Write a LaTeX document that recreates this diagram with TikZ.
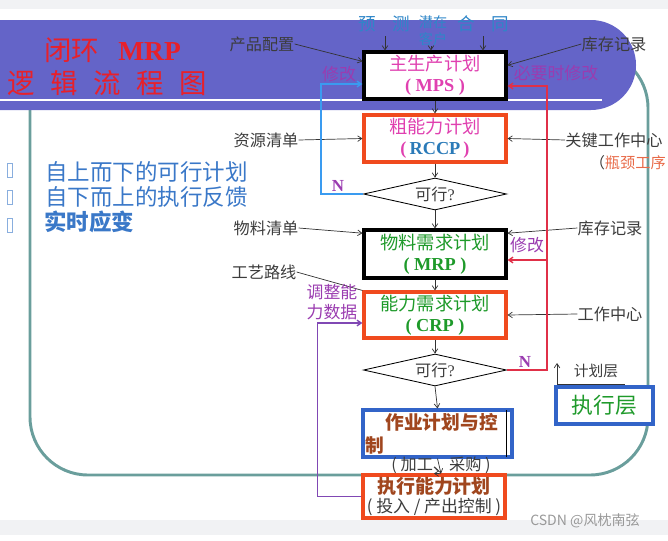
\documentclass[tikz,border=0pt]{standalone}
\usepackage{fontspec}
\setmainfont{Noto Sans CJK SC}
\newfontfamily\latin{Liberation Serif}
\usepackage{tikz}
\usetikzlibrary{shapes.geometric, arrows.meta, positioning, calc}
\definecolor{bandcolor}{HTML}{6464C8}
\definecolor{framecolor}{HTML}{6A9E9C}
\definecolor{stripgray}{HTML}{F1F2F4}
\definecolor{titlered}{HTML}{E8202A}
\definecolor{mpspink}{HTML}{E040B0}
\definecolor{rccpblue}{HTML}{2A7AB8}
\definecolor{boxred}{HTML}{F04A1E}
\definecolor{boxblue}{HTML}{3264C8}
\definecolor{mrpgreen}{HTML}{1E9A2A}
\definecolor{opbrown}{HTML}{A0461E}
\definecolor{labelpurple}{HTML}{9A3CB0}
\definecolor{loopblue}{HTML}{3A9BF0}
\definecolor{loopred}{HTML}{E03048}
\definecolor{looppurple}{HTML}{8048B4}
\definecolor{inputblue}{HTML}{2E86C8}
\definecolor{sideblue}{HTML}{3A78C8}
\definecolor{textgray}{HTML}{3C3C3C}
\definecolor{bottleneck}{HTML}{E86A48}

\begin{document}
\begin{tikzpicture}[x=0.025cm, y=-0.025cm,
    arr/.style={draw=black!80, line width=0.5pt, -{Straight Barb[length=3pt, width=4pt]}},
    planbox/.style={draw, line width=2.2pt, fill=white, minimum width=3.55cm,
        minimum height=1.175cm, inner sep=0pt, align=center,
        font=\fontsize{13}{15}\selectfont},
    blackbox/.style={planbox, draw=black},
    redbox/.style={planbox, draw=boxred},
    decide/.style={diamond, draw, line width=0.6pt, aspect=4.4, minimum width=3.575cm,
        minimum height=0.8cm, inner sep=0pt, text=textgray, font=\fontsize{11.5}{13}\selectfont},
    lbl/.style={text=textgray, inner sep=0pt, font=\fontsize{11.5}{13}\selectfont},
    chglabel/.style={text=labelpurple, inner sep=0pt, font=\fontsize{12}{14}\selectfont},
    nlabel/.style={text=labelpurple, inner sep=0pt, font=\latin\bfseries\fontsize{12}{14}\selectfont},
    side/.style={text=sideblue, anchor=west, inner sep=0pt, font=\fontsize{16}{18}\selectfont},
    topin/.style={text=inputblue, inner sep=0pt, font=\fontsize{12}{14}\selectfont},
]
    \useasboundingbox (0,0) rectangle (668,540);
    \clip (0,0) rectangle (668,540);
    % Page strips
    \fill[stripgray] (0,0) rectangle (668,9);
    \fill[stripgray] (0,520) rectangle (668,535);
    % Frame and band
    \draw[framecolor, line width=2.1pt, rounded corners=1.45cm] (30,50) rectangle (648,475);
    \fill[bandcolor, rounded corners=1.125cm] (-60,20) rectangle (636,110);
    \draw[white, line width=1.5pt] (0,100) -- (602,100);
    % Title
    \node[anchor=west, inner sep=0pt, text=titlered, font=\fontsize{19.5}{22}\selectfont]
        (title1) at (44,50) {闭环\hspace{0.7em}{\latin\bfseries MRP}};
    \node[anchor=west, inner sep=0pt, text=titlered, font=\fontsize{19.5}{22}\selectfont]
        (title2) at (7,83) {逻\hspace{0.57em}辑\hspace{0.57em}流\hspace{0.57em}程\hspace{0.57em}图};
    % Side notes
    \node[side] (down) at (45,172) {自上而下的可行计划};
    \node[side] (up) at (45,197) {自下而上的执行反馈};
    \node[side, font=\bfseries\fontsize{16}{18}\selectfont] (react) at (44,222) {实时应变};
    \foreach \y in {163,190,218}
        \draw[sideblue!60, line width=0.5pt] (7,\y) rectangle (12,\y+14);
    % Planning boxes
    \node[blackbox] (mps) at (435,75.5)
        {\textcolor{mpspink}{主生产计划}\\\textcolor{mpspink}{\latin\bfseries ( MPS )}};
    \node[redbox] (rccp) at (435,138.5)
        {\textcolor{mpspink}{粗能力计划}\\\textcolor{mpspink}{\latin\bfseries (\,\textcolor{rccpblue}{RCCP}\,)}};
    \node[decide] (feas1) at (435,194) {可行{\latin ?}};
    \node[blackbox, minimum height=1.2cm] (mrp) at (435,254)
        {\textcolor{mrpgreen}{物料需求计划}\\\textcolor{mrpgreen}{\latin\bfseries ( MRP )}};
    \node[redbox, minimum height=1.15cm] (crp) at (435,315)
        {\textcolor{mrpgreen}{能力需求计划}\\\textcolor{mrpgreen}{\latin\bfseries ( CRP )}};
    \node[decide] (feas2) at (435,370) {可行{\latin ?}};
    \node[planbox, draw=boxblue, minimum width=3.725cm, text width=3.6cm, align=left,
        text=opbrown, font=\fontsize{13.3}{16.3}\selectfont\bfseries]
        (op) at (437.5,433.5) {\hspace*{0.5cm}作业计划与控\\制};
    \draw[black, line width=0.5pt] ($(op.north east)+(-7,2)$) -- ($(op.south east)+(-7,-2)$);
    \node[lbl] (opnote) at (441,465) {( 加工、采购 )};
    \draw[arr] (op.south) -- (opnote.south);
    \node[redbox, minimum height=1.075cm, font=\fontsize{13.5}{14}\selectfont] (exec) at (434,496.5)
        {\textcolor{opbrown}{\bfseries 执行能力计划}\\\textcolor{textgray}{\fontsize{12}{14}\selectfont ( 投入 / 产出控制 )}};
    \draw[arr] (opnote.south) -- (exec.north);
    % Flow
    \draw[arr] (mps.south) -- (rccp.north);
    \draw[arr] (rccp.south) -- (feas1.north);
    \draw[arr] (feas1.south) -- (mrp.north);
    \draw[arr] (mrp.south) -- (crp.north);
    \draw[arr] (crp.south) -- (feas2.north);
    \draw[arr] (feas2.south) -- (op.north);
    % Inputs on top
    \node[topin, font=\fontsize{12.5}{14}\selectfont] (fc1) at (367,24) {预};
    \node[topin, font=\fontsize{12.5}{14}\selectfont] (fc2) at (401,24) {测};
    \node[topin, font=\fontsize{10}{11}\selectfont] (cust1) at (433,22) {潜在};
    \node[topin, font=\fontsize{10}{11}\selectfont] (cust2) at (433,39) {客户};
    \node[topin, font=\fontsize{12.5}{14}\selectfont] (ct1) at (466,24) {合};
    \node[topin, font=\fontsize{12.5}{14}\selectfont] (ct2) at (500,24) {同};
    \coordinate (fcin) at (385,36);
    \coordinate (ctin) at (483,36);
    \draw[arr] (fcin) -- (fcin |- mps.north);
    \draw[arr] ($(cust2.south -| mps.north)+(-4,0)$) -- ($(mps.north)+(-4,0)$);
    \draw[arr] (ctin) -- (ctin |- mps.north);
    % Side inputs
    \node[lbl] (pcfg) at (262,44) {产品配置};
    \node[lbl] (inv1) at (614,44) {库存记录};
    \draw[arr] (pcfg.east) -- (mps.169);
    \draw[arr] (inv1.west) -- (mps.8);
    \node[lbl] (rsl) at (266,140) {资源清单};
    \node[lbl] (kwc) at (614,140) {关键工作中心};
    \node[lbl, anchor=east, font=\fontsize{10.8}{12}\selectfont] (neck) at (666,163) {（\textcolor{bottleneck}{瓶颈工序}};
    \draw[arr] (rsl.east) -- (rccp.west);
    \draw[arr] (kwc.west) -- (rccp.east);
    \node[lbl] (bom) at (266,228) {物料清单};
    \node[lbl] (inv2) at (610,228) {库存记录};
    \draw[arr] (bom.east) -- (mrp.164);
    \draw[arr] (inv2.west) -- (mrp.16);
    \node[lbl] (route) at (264,272) {工艺路线};
    \draw[black!80, line width=0.5pt] (route.east) -- (crp.north west);
    \node[lbl] (wc) at (610,314) {工作中心};
    \draw[arr] (wc.west) -- (crp.east);
    % Feedback loops
    \draw[loopblue, line width=1pt, -{Straight Barb[length=3pt, width=4pt]}]
        (feas1.west) -- ++(-42,0) |- ($(mps.west)+(0,8.5)$);
    \node[nlabel] (n1) at (338,186) {N};
    \node[chglabel] (chg1) at (339,74) {修改};
    \coordinate (redup) at ($(feas2.east)+(40,0)$);
    \draw[loopred, line width=1pt, -{Straight Barb[length=3pt, width=4pt]}]
        (feas2.east) -- (redup) |- ($(mps.east)+(0,10.5)$);
    \draw[loopred, line width=1pt, -{Straight Barb[length=3pt, width=4pt]}]
        ($(redup |- mrp.east)+(0,6)$) -- ($(mrp.east)+(0,6)$);
    \node[nlabel] (n2) at (525,362) {N};
    \node[chglabel] (chg2) at (556,73) {必要时修改};
    \node[chglabel] (chg3) at (527,245) {修改};
    \draw[looppurple, line width=1pt, -{Straight Barb[length=3pt, width=4pt]}]
        (exec.west) -- ++(-44,0) |- ($(crp.west)+(0,8)$);
    \node[chglabel, align=center] (adj) at (332,302) {调整能\\力数据};
    % Layers
    \node[planbox, draw=boxblue, minimum width=2.425cm, minimum height=0.925cm,
        text=mrpgreen, font=\fontsize{15.5}{17}\selectfont] (execlayer) at (604.5,405.5) {执行层};
    \coordinate (layerup) at (557,384);
    \draw[black!80, line width=0.5pt] (layerup) -- (625,384);
    \draw[arr] (layerup) -- ++(0,-21);
    \node[lbl, font=\fontsize{10.5}{12}\selectfont] (planlayer) at (596,371) {计划层};
    % Watermark
    \node[text=black!40, inner sep=0pt, font=\fontsize{10}{12}\selectfont] (wm) at (585,521) {CSDN @风枕南弦};
\end{tikzpicture}
\end{document}
